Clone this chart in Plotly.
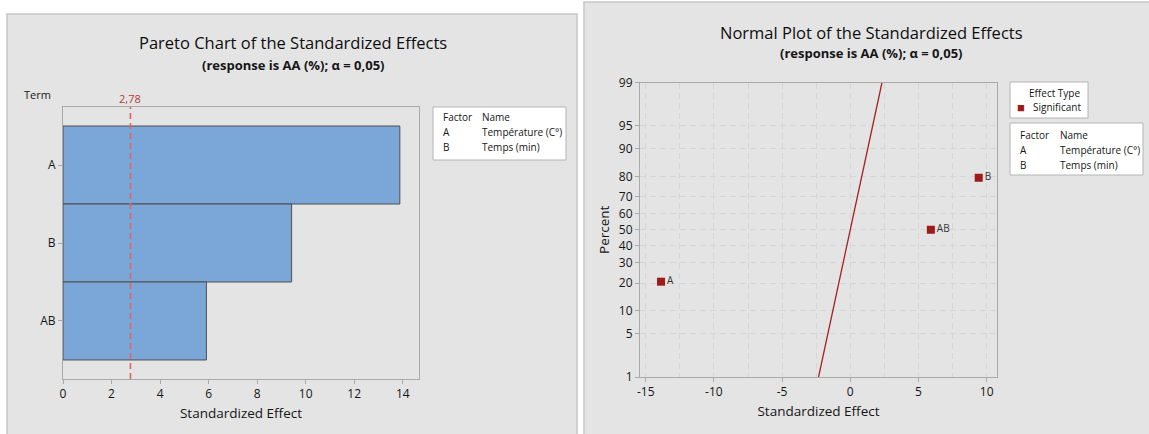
from statistics import NormalDist
import plotly.graph_objects as go

# ---- data -------------------------------------------------------------
terms = ["A", "B", "AB"]
pareto_effects = [13.88, 9.42, 5.91]          # |standardized effect|
critical_value = 2.78

normal_terms = ["A", "AB", "B"]
normal_effects = [-13.88, 5.91, 9.42]         # signed standardized effects
normal_percent = [20.6, 50.0, 79.4]           # plotting positions (%)

pct_ticks = [1, 5, 10, 20, 30, 40, 50, 60, 70, 80, 90, 95, 99]
effect_ticks = [-15, -10, -5, 0, 5, 10]
pareto_ticks = [0, 2, 4, 6, 8, 10, 12, 14]
ref_line_pct = [1, 99]                        # fitted line end points (%)

factor_rows = [("A", "Température (C°)"), ("B", "Temps (min)")]

W, H = 1149, 434
FONT = "Open Sans"
DARK = "#161616"
AXIS = "#a9a9a9"
GRID = "#d6d6d6"
MARKER = "#9e1b1b"
nd = NormalDist()


def fx(px):
    return px / W


def fy(py):
    return 1 - py / H


fig = go.Figure()

# ---- Pareto chart -----------------------------------------------------
fig.add_trace(go.Bar(
    x=pareto_effects, y=terms, orientation="h", width=1.0,
    marker=dict(color="#7ba7d8", line=dict(color="#4f4f4f", width=1)),
    xaxis="x", yaxis="y", showlegend=False, hoverinfo="x+y",
))

# ---- Normal plot ------------------------------------------------------
z_line = [nd.inv_cdf(p / 100) for p in ref_line_pct]
fig.add_trace(go.Scatter(
    x=z_line, y=z_line, mode="lines",
    line=dict(color="#a52222", width=1.3),
    xaxis="x2", yaxis="y2", showlegend=False, hoverinfo="skip",
))
fig.add_trace(go.Scatter(
    x=normal_effects, y=[nd.inv_cdf(p / 100) for p in normal_percent],
    mode="markers+text", text=normal_terms, textposition="middle right",
    textfont=dict(family=FONT, size=10, color="#333333"),
    marker=dict(symbol="square", size=8, color=MARKER),
    name="Significant", xaxis="x2", yaxis="y2", showlegend=False,
))

tick_font = dict(family=FONT, size=12, color=DARK)
title_font = dict(family=FONT, size=13.5, color=DARK)
grid_dash = "6px,4px"

layout = dict(
    width=W, height=H, autosize=False,
    margin=dict(l=0, r=0, t=0, b=0, pad=0, autoexpand=False),
    paper_bgcolor="white", plot_bgcolor="white",
    font=dict(family=FONT, color=DARK),
    showlegend=False,
    xaxis=dict(
        domain=[fx(63), fx(419)], range=[0, 14.67], anchor="y",
        tickvals=pareto_ticks, showgrid=False, zeroline=False,
        showline=True, linecolor=AXIS, mirror=True,
        ticks="outside", ticklen=4, tickcolor=AXIS, tickfont=tick_font,
        title=dict(text="Standardized Effect", font=title_font, standoff=7),
    ),
    yaxis=dict(
        domain=[fy(379), fy(107)], range=[2.744, -0.744], anchor="x",
        type="category", showgrid=False, zeroline=False,
        showline=True, linecolor=AXIS, mirror=True,
        ticks="outside", ticklen=4, tickcolor=AXIS, tickfont=tick_font,
    ),
    xaxis2=dict(
        domain=[fx(640), fx(997)], range=[-15.42, 10.76], anchor="y2",
        tickvals=effect_ticks, ticktext=[str(v) for v in effect_ticks],
        zeroline=False,
        showgrid=True, gridcolor=GRID, griddash=grid_dash, gridwidth=1,
        minor=dict(dtick=2.5, tick0=0, showgrid=True, gridcolor=GRID,
                   griddash=grid_dash, gridwidth=1),
        showline=True, linecolor=AXIS, mirror=True,
        ticks="outside", ticklen=4, tickcolor=AXIS, tickfont=tick_font,
        title=dict(text="Standardized Effect", font=title_font, standoff=7),
    ),
    yaxis2=dict(
        domain=[fy(377), fy(82.5)],
        range=[nd.inv_cdf(0.01), nd.inv_cdf(0.99)], anchor="x2",
        tickvals=[nd.inv_cdf(p / 100) for p in pct_ticks],
        ticktext=[str(p) for p in pct_ticks], zeroline=False,
        showgrid=True, gridcolor=GRID, griddash=grid_dash, gridwidth=1,
        showline=True, linecolor=AXIS, mirror=True,
        ticks="outside", ticklen=4, tickcolor=AXIS, tickfont=tick_font,
        title=dict(text="Percent", font=title_font, standoff=6),
    ),
)

shapes = [
    # panel backgrounds
    dict(type="rect", xref="paper", yref="paper", layer="below",
         x0=fx(7), x1=fx(577), y0=fy(440), y1=fy(14),
         fillcolor="#e4e4e4", line=dict(color="#c6c6c6", width=1.5)),
    dict(type="rect", xref="paper", yref="paper", layer="below",
         x0=fx(584), x1=fx(1152), y0=fy(440), y1=fy(2),
         fillcolor="#e4e4e4", line=dict(color="#c6c6c6", width=1.5)),
    # critical value reference line
    dict(type="line", xref="x", yref="y domain",
         x0=critical_value, x1=critical_value, y0=0, y1=1,
         line=dict(color="#e06464", width=1.6, dash="6px,4px")),
    # effect type key and factor tables
    dict(type="rect", xref="paper", yref="paper",
         x0=fx(1010), x1=fx(1088), y0=fy(118), y1=fy(82),
         fillcolor="white", line=dict(color="#b4b4b4", width=1)),
    dict(type="rect", xref="paper", yref="paper",
         x0=fx(433), x1=fx(566), y0=fy(160), y1=fy(107),
         fillcolor="white", line=dict(color="#b4b4b4", width=1)),
    dict(type="rect", xref="paper", yref="paper",
         x0=fx(1010), x1=fx(1143), y0=fy(175), y1=fy(123),
         fillcolor="white", line=dict(color="#b4b4b4", width=1)),
]

annotations = []


def text(x, y, s, size, xanchor="center", color=DARK):
    annotations.append(dict(
        x=fx(x), y=fy(y), xref="paper", yref="paper", text=s,
        showarrow=False, xanchor=xanchor, yanchor="middle",
        font=dict(family=FONT, size=size, color=color)))


# titles
text(293, 43, "Pareto Chart of the Standardized Effects", 16.5, color="#0e0e0e")
text(293, 65, "<b>(response is AA (%); α = 0,05)</b>", 13)
text(871, 32, "Normal Plot of the Standardized Effects", 16.5, color="#0e0e0e")
text(871, 53, "<b>(response is AA (%); α = 0,05)</b>", 13)
text(22, 94, "Term", 11, xanchor="left")

# critical value label
annotations.append(dict(
    x=critical_value, y=fy(99), xref="x", yref="paper",
    text=f"{critical_value:.2f}".replace(".", ","), showarrow=False,
    xanchor="center", yanchor="middle",
    font=dict(family=FONT, size=11, color="#b03c3c")))

# effect type key
text(1082, 93, "Effect Type", 10, xanchor="right")
text(1015, 107, "■", 13, xanchor="left", color=MARKER)
text(1031, 107, "Significant", 10, xanchor="left")

# factor tables text
for (x_fac, x_name, y0) in [(441, 480, 117), (1018, 1058, 135)]:
    text(x_fac, y0, "Factor", 10, xanchor="left")
    text(x_name, y0, "Name", 10, xanchor="left")
    for i, (fac, name) in enumerate(factor_rows):
        text(x_fac, y0 + 15 * (i + 1), fac, 10, xanchor="left")
        text(x_name, y0 + 15 * (i + 1), name, 10, xanchor="left")

layout["shapes"] = shapes
layout["annotations"] = annotations
fig.update_layout(**layout)

fig.write_html("out.html")
